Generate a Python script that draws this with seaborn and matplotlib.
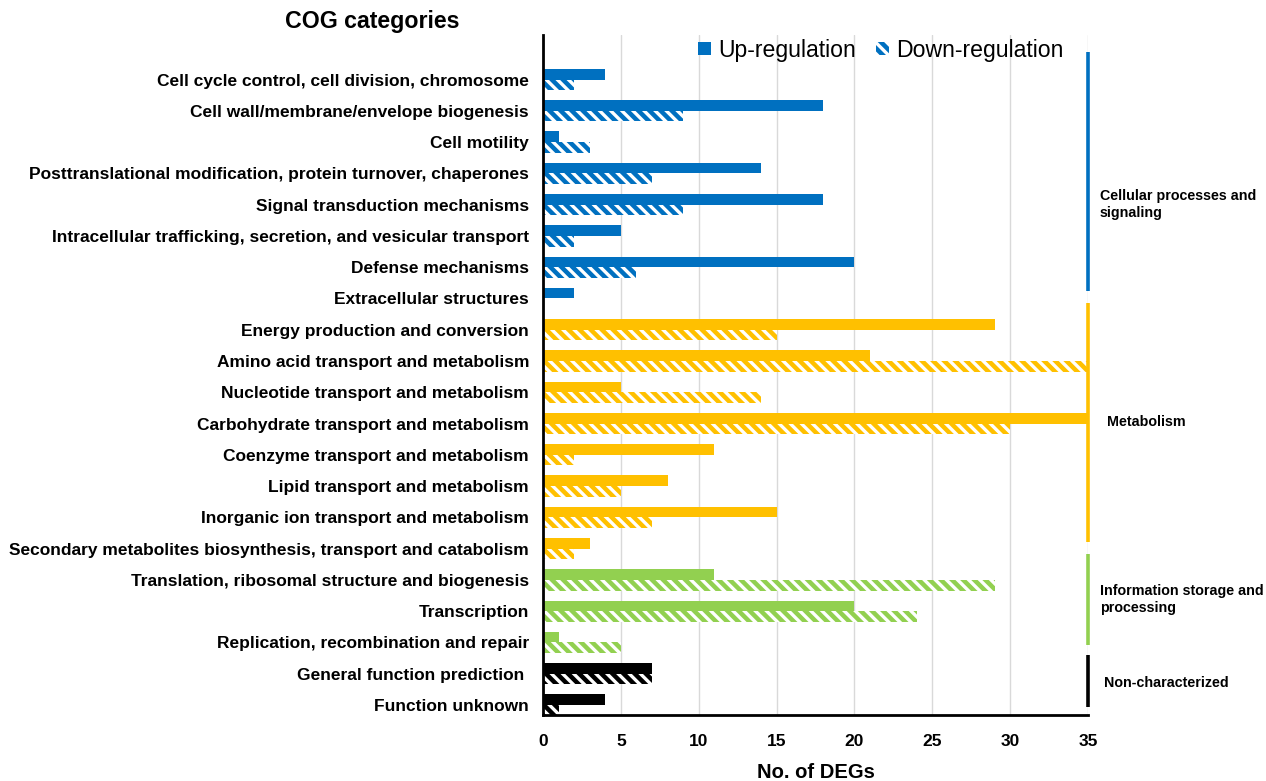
import matplotlib
matplotlib.use("Agg")
import matplotlib.pyplot as plt
import numpy as np
import pandas as pd
import seaborn as sns
from matplotlib.patches import Patch

# COG functional categories (top to bottom)
categories = [
    "Cell cycle control, cell division, chromosome",
    "Cell wall/membrane/envelope biogenesis",
    "Cell motility",
    "Posttranslational modification, protein turnover, chaperones",
    "Signal transduction mechanisms",
    "Intracellular trafficking, secretion, and vesicular transport",
    "Defense mechanisms",
    "Extracellular structures",
    "Energy production and conversion",
    "Amino acid transport and metabolism",
    "Nucleotide transport and metabolism",
    "Carbohydrate transport and metabolism",
    "Coenzyme transport and metabolism",
    "Lipid transport and metabolism",
    "Inorganic ion transport and metabolism",
    "Secondary metabolites biosynthesis, transport and catabolism",
    "Translation, ribosomal structure and biogenesis",
    "Transcription",
    "Replication, recombination and repair",
    "General function prediction ",
    "Function unknown",
]
up_counts = [4, 18, 1, 14, 18, 5, 20, 2, 29, 21, 5, 35, 11, 8, 15, 3, 11, 20, 1, 7, 4]
down_counts = [2, 9, 3, 7, 9, 2, 6, 0, 15, 35, 14, 30, 2, 5, 7, 2, 29, 24, 5, 7, 1]
group_names = [
    "Cellular processes and\nsignaling",
    "Metabolism",
    "Information storage and\nprocessing",
    "Non-characterized",
]
group_sizes = [8, 8, 3, 2]
group_colors = ["#0070C0", "#FFC000", "#92D050", "#000000"]
x_ticks = [0, 5, 10, 15, 20, 25, 30, 35]
series = ["Up-regulation", "Down-regulation"]

row_group = np.repeat(np.arange(len(group_sizes)), group_sizes)

df = pd.DataFrame({
    "category": categories * 2,
    "count": up_counts + down_counts,
    "regulation": [series[0]] * len(categories) + [series[1]] * len(categories),
})

sns.set_theme(style="white")
plt.rcParams["font.family"] = ["Liberation Sans", "DejaVu Sans"]
plt.rcParams["hatch.linewidth"] = 2.4

fig = plt.figure(figsize=(12.66, 7.81), dpi=100)
ax = fig.add_axes([0.4289, 0.0845, 0.4305, 0.8705])

sns.barplot(data=df, y="category", x="count", hue="regulation",
            hue_order=series, order=categories, orient="h",
            width=0.68, dodge=True, errorbar=None, saturation=1,
            legend=False, ax=ax)

HATCH = "\\\\\\"
for s_idx, container in enumerate(ax.containers):
    for i, bar in enumerate(container.patches):
        color = group_colors[row_group[i]]
        bar.set_facecolor(color)
        bar.set_linewidth(0)
        if s_idx == 1:
            bar.set_hatch(HATCH)
            bar.set_edgecolor("white")
        else:
            bar.set_edgecolor(color)

ax.set_xlim(0, 35)
ax.set_ylim(20.32, -1.42)
ax.set_xticks(x_ticks)
ax.xaxis.grid(True, color="#d9d9d9", linewidth=1)
ax.set_axisbelow(True)

for side in ["top", "right"]:
    ax.spines[side].set_visible(False)
for side in ["left", "bottom"]:
    ax.spines[side].set_linewidth(2)
    ax.spines[side].set_color("black")

ax.tick_params(axis="x", direction="inout", length=8, width=2, color="black",
               labelsize=12.5, pad=10)
ax.tick_params(axis="y", length=0, labelsize=12.5, pad=10)
for lab in ax.get_xticklabels() + ax.get_yticklabels():
    lab.set_fontweight("bold")
    lab.set_color("black")

ax.set_ylabel("")
ax.set_xlabel("No. of DEGs", fontsize=14.5, fontweight="bold", color="black", labelpad=10)

fig.text(0.294, 0.972, "COG categories", ha="center", va="center",
         fontsize=16.7, fontweight="bold", color="black")

# Group brackets on the right edge
bracket_spans = [(-0.88, 6.76), (7.13, 14.78), (15.16, 18.07), (18.4, 20.06)]
label_rows = [4.0, 10.94, 16.63, 19.3]
label_x = [35.75, 36.2, 35.75, 36.0]
for name, color, (y0, y1), ly, lx in zip(group_names, group_colors, bracket_spans,
                                          label_rows, label_x):
    ax.plot([35, 35], [y0, y1], color=color, linewidth=2.6, clip_on=False,
            solid_capstyle="butt", zorder=5)
    ax.text(lx, ly, name, ha="left", va="center", fontsize=10.3,
            fontweight="bold", color="black", clip_on=False, linespacing=1.3)

handles = [
    Patch(facecolor=group_colors[0], edgecolor=group_colors[0], linewidth=0),
    Patch(facecolor=group_colors[0], edgecolor="white", hatch=HATCH, linewidth=0),
]
ax.legend(handles, series, loc="center", bbox_to_anchor=(0.62, 0.978),
          ncol=2, frameon=False, fontsize=16.6, labelcolor="black",
          handlelength=0.55, handleheight=0.55, handletextpad=0.3,
          columnspacing=0.9)

fig.savefig("out.png", dpi=100)
